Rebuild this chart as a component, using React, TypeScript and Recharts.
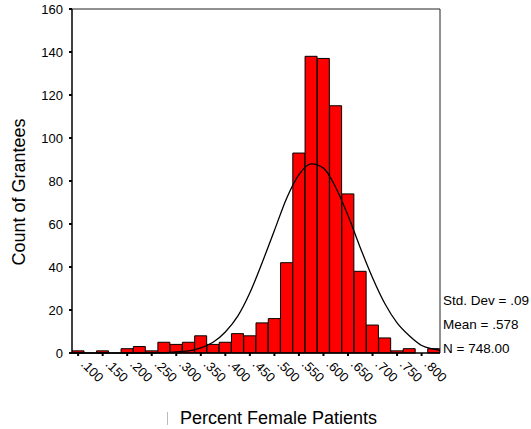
import {
  ComposedChart,
  Bar,
  Line,
  XAxis,
  YAxis,
  ReferenceLine,
} from "recharts";

// bin centres (percent female patients), one extra point either side for the curve
const binCentres = [
  0.075, 0.1, 0.125, 0.15, 0.175, 0.2, 0.225, 0.25, 0.275, 0.3, 0.325, 0.35,
  0.375, 0.4, 0.425, 0.45, 0.475, 0.5, 0.525, 0.55, 0.575, 0.6, 0.625, 0.65,
  0.675, 0.7, 0.725, 0.75, 0.775, 0.8, 0.825, 0.85,
];

// count of grantees per bin (null = empty bin)
const counts = [
  null, 1, null, 1, null, 2, 3, 1, 5, 4, 5, 8, 4, 5, 9, 8, 14, 16, 42, 93, 138,
  137, 115, 74, 38, 13, 7, 1, 2, null, 2, null,
];

// fitted normal curve
const normalCurve = [
  0, 0, 0, 0, 0, 0, 0, 0.1, 0.2, 0.5, 1, 2.4, 5, 9.8, 17, 28, 42, 57, 72, 83,
  88, 86, 77, 64, 49, 35, 23, 14, 8, 3.5, 1.8, 0.8,
];

const xTicks = [
  0.1, 0.15, 0.2, 0.25, 0.3, 0.35, 0.4, 0.45, 0.5, 0.55, 0.6, 0.65, 0.7, 0.75,
  0.8,
];
const yTicks = [0, 20, 40, 60, 80, 100, 120, 140, 160];

const stats = ["Std. Dev = .09", "Mean = .578", "N = 748.00"];

const data = binCentres.map((x, i) => ({
  x,
  count: counts[i],
  curve: normalCurve[i],
}));

const FONT = "'Liberation Sans', Arial, sans-serif";

const fmt = (v: number) => v.toFixed(3).replace(/^0/, "");

const XTick = (props: any) => {
  const { x, y, payload } = props;
  const px = x + 2;
  const py = y + 7;
  return (
    <text
      x={px}
      y={py}
      transform={`rotate(45 ${px} ${py})`}
      textAnchor="start"
      fontSize={13}
      fill="#000"
      fontFamily={FONT}
    >
      {fmt(payload.value)}
    </text>
  );
};

export default function App() {
  return (
    <div
      style={{
        position: "absolute",
        left: 0,
        top: 0,
        width: 531,
        height: 429,
        background: "#fff",
        fontFamily: FONT,
      }}
    >
      <ComposedChart
        width={531}
        height={429}
        data={data}
        margin={{ top: 9, right: 91, bottom: 46, left: 0 }}
        barCategoryGap={0}
        barGap={0}
      >
        <XAxis
          dataKey="x"
          type="number"
          domain={[0.0875, 0.8375]}
          allowDataOverflow
          ticks={xTicks}
          interval={0}
          height={30}
          tickSize={3}
          tick={XTick}
          tickLine={{ stroke: "#000", strokeWidth: 2 }}
          axisLine={{ stroke: "#000", strokeWidth: 1.5 }}
        />
        <YAxis
          type="number"
          domain={[0, 160]}
          ticks={yTicks}
          interval={0}
          width={72}
          tickSize={3}
          tickMargin={6}
          tick={{ fontSize: 13, fill: "#000", fontFamily: FONT }}
          tickLine={{ stroke: "#000", strokeWidth: 2 }}
          axisLine={{ stroke: "#000", strokeWidth: 1.5 }}
        />
        <ReferenceLine y={160} stroke="#222" strokeWidth={1} />
        <ReferenceLine x={0.8375} stroke="#222" strokeWidth={1} />
        <Bar
          dataKey="count"
          fill="#ff0000"
          stroke="#000"
          strokeWidth={1}
          isAnimationActive={false}
        />
        <Line
          dataKey="curve"
          type="monotone"
          stroke="#000"
          strokeWidth={1.3}
          dot={false}
          activeDot={false}
          isAnimationActive={false}
        />
      </ComposedChart>
      <svg
        width={531}
        height={429}
        style={{ position: "absolute", left: 0, top: 0, pointerEvents: "none" }}
      >
        <text
          x={25}
          y={192}
          transform="rotate(-90 25 192)"
          textAnchor="middle"
          fontSize={18}
          fontFamily={FONT}
          fill="#000"
        >
          Count of Grantees
        </text>
        <line x1={167.5} y1={412} x2={167.5} y2={425} stroke="#bbb" />
        <text x={180} y={424} fontSize={18} fontFamily={FONT} fill="#000">
          Percent Female Patients
        </text>
        {stats.map((s, i) => (
          <text
            key={s}
            x={443}
            y={305 + i * 24}
            fontSize={13.5}
            fontFamily={FONT}
            fill="#000"
          >
            {s}
          </text>
        ))}
      </svg>
    </div>
  );
}
